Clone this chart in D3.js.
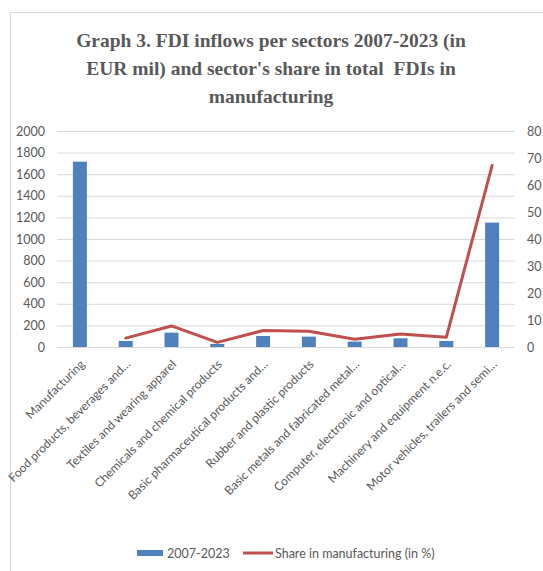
<!DOCTYPE html>
<html>
<head>
<meta charset="utf-8">
<script src="https://cdn.jsdelivr.net/npm/d3@7"></script>
<style>
  body { margin: 0; background: #fff; }
  svg { display: block; }
</style>
</head>
<body>
<div id="chart"></div>
<script>
// sectors on the x axis
const sectors = [
    'Manufacturing',
    'Food products, beverages and…',
    'Textiles and wearing apparel',
    'Chemicals and chemical products',
    'Basic pharmaceutical products and…',
    'Rubber and plastic products',
    'Basic metals and fabricated metal…',
    'Computer, electronic and optical…',
    'Machinery and equipment n.e.c.',
    'Motor vehicles, trailers and semi…'
];
// FDI inflows 2007-2023, EUR mil
const inflows = [1716, 56, 133, 28, 102, 96, 50, 81, 56, 1152];
// share in manufacturing (in %), no value for Manufacturing itself
const shares = [null, 3.3, 7.8, 1.7, 6.1, 5.8, 2.9, 4.8, 3.6, 67.2];

const leftTicks = [0, 200, 400, 600, 800, 1000, 1200, 1400, 1600, 1800, 2000];
const rightTicks = [0, 10, 20, 30, 40, 50, 60, 70, 80];

const titleLines = [
    'Graph 3. FDI inflows per sectors 2007-2023 (in',
    "EUR mil) and sector's share in total  FDIs in",
    'manufacturing'
];
const legendNames = ['2007-2023', 'Share in manufacturing (in %)'];

// chart dimensions
let dim = { width: 543, height: 571 };
let plot = { left: 57, right: 515, top: 131, bottom: 347 };

const font = 'Lato, Roboto, sans-serif';
const grey = '#595959';

let svg = d3.select('#chart')
    .append('svg')
    .attr('width', dim.width)
    .attr('height', dim.height);

// chart area border (only top and left show in the picture)
svg.append('rect')
    .attr('x', 10.5).attr('y', 12.5)
    .attr('width', 600).attr('height', 600)
    .attr('fill', 'none')
    .attr('stroke', '#d9d9d9');

// title
svg.append('text')
    .attr('text-anchor', 'middle')
    .attr('font-family', "'Liberation Serif', 'Times New Roman', Times, 'DejaVu Serif', serif")
    .attr('font-weight', 'bold')
    .attr('font-size', 19.5)
    .attr('fill', grey)
    .style('white-space', 'pre')
    .selectAll('tspan')
    .data(titleLines)
    .join('tspan')
    .attr('x', 271)
    .attr('y', (d, i) => 47 + i * 28)
    .text(d => d);

// scales
let xCenter = d3.scalePoint()
    .domain(sectors)
    .range([plot.left, plot.right])
    .padding(0.5);

let yLeft = d3.scaleLinear().domain([0, 2000]).range([plot.bottom, plot.top]);
let yRight = d3.scaleLinear().domain([0, 80]).range([plot.bottom, plot.top]);

// gridlines
svg.append('g')
    .attr('transform', `translate(${plot.left}, 0)`)
    .call(d3.axisLeft(yLeft).tickValues(leftTicks).tickSize(-(plot.right - plot.left)).tickFormat(''))
    .call(g => g.select('.domain').remove())
    .call(g => g.selectAll('line').attr('stroke', '#d9d9d9').attr('stroke-width', 1));

// left axis labels
svg.append('g')
    .attr('transform', `translate(${plot.left - 12}, 0)`)
    .call(d3.axisLeft(yLeft).tickValues(leftTicks).tickFormat(d3.format('d')).tickSize(0).tickPadding(0))
    .call(g => g.select('.domain').remove())
    .call(g => g.selectAll('text')
        .attr('font-family', font)
        .attr('font-size', 12.5)
        .attr('fill', grey));

// right axis labels
svg.append('g')
    .attr('transform', `translate(${plot.right + 12}, 0)`)
    .call(d3.axisRight(yRight).tickValues(rightTicks).tickFormat(d3.format('d')).tickSize(0).tickPadding(0))
    .call(g => g.select('.domain').remove())
    .call(g => g.selectAll('text')
        .attr('font-family', font)
        .attr('font-size', 12.5)
        .attr('fill', grey));

// bars
svg.append('g')
    .selectAll('rect')
    .data(inflows)
    .join('rect')
    .attr('x', (d, i) => xCenter(sectors[i]) - 7)
    .attr('width', 14)
    .attr('y', d => yLeft(d))
    .attr('height', d => yLeft(0) - yLeft(d))
    .attr('fill', '#4f81bd');

// share line
let line = d3.line()
    .defined(d => d != null)
    .x((d, i) => xCenter(sectors[i]))
    .y(d => yRight(d));

svg.append('path')
    .datum(shares)
    .attr('d', line)
    .attr('fill', 'none')
    .attr('stroke', '#c0504d')
    .attr('stroke-width', 3)
    .attr('stroke-linejoin', 'round')
    .attr('stroke-linecap', 'round');

// x axis labels, rotated
svg.append('g')
    .attr('transform', `translate(0, ${plot.bottom})`)
    .call(d3.axisBottom(xCenter).tickSize(0).tickPadding(0))
    .call(g => g.select('.domain').remove())
    .call(g => g.selectAll('text')
        .attr('font-family', font)
        .attr('font-size', 12)
        .attr('fill', grey)
        .attr('text-anchor', 'end')
        .attr('dy', null)
        .attr('transform', 'translate(5, 18) rotate(-45)'));

// legend
let legend = svg.append('g')
    .attr('font-family', font)
    .attr('font-size', 12.5)
    .attr('fill', grey);

legend.append('rect')
    .attr('x', 137).attr('y', 550)
    .attr('width', 26).attr('height', 6)
    .attr('fill', '#4f81bd');
legend.append('text')
    .attr('x', 167).attr('y', 558)
    .text(legendNames[0]);

legend.append('line')
    .attr('x1', 243).attr('x2', 273)
    .attr('y1', 553).attr('y2', 553)
    .attr('stroke', '#c0504d')
    .attr('stroke-width', 3);
legend.append('text')
    .attr('x', 275).attr('y', 558)
    .text(legendNames[1]);
</script>
</body>
</html>
